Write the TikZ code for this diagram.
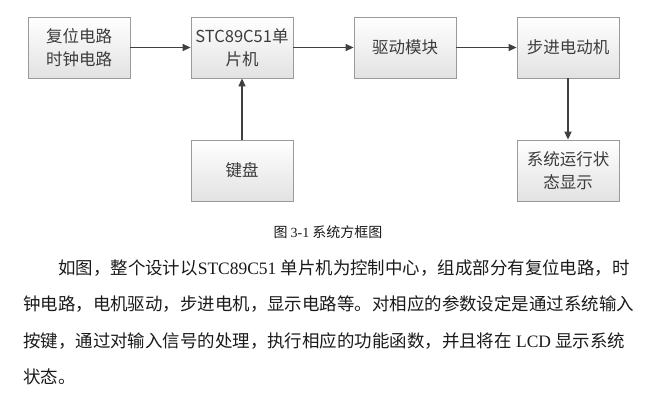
\documentclass[tikz,border=0pt]{standalone}
\usepackage{fontspec}
\usepackage{tikz}
\usetikzlibrary{arrows.meta}
\setmainfont{Liberation Serif}
\newfontfamily\cjkfont{Noto Sans CJK SC}
\definecolor{BlockEdge}{HTML}{9A9A9A}
\definecolor{BlockTop}{HTML}{FFFFFF}
\definecolor{BlockBottom}{HTML}{E2E2E2}
\definecolor{BlockText}{HTML}{3C3C3C}
\definecolor{FlowLine}{HTML}{404040}
\definecolor{BodyText}{HTML}{1A1A1A}

\begin{document}
\begin{tikzpicture}[x=1pt,y=-1pt,
    block/.style={draw=BlockEdge,line width=0.8pt,top color=BlockTop,bottom color=BlockBottom,
      minimum width=102pt,minimum height=61pt,inner sep=0pt,align=center,text=BlockText,
      font=\cjkfont\fontsize{16.5}{23}\selectfont},
    flow/.style={FlowLine,line width=1.4pt,-{Triangle[length=8pt,width=7pt]}},
    bodyline/.style={anchor=west,inner sep=0pt,text=BodyText,font=\cjkfont\fontsize{17.45}{20}\selectfont}]
      \useasboundingbox (0,0) rectangle (653,407);
      \node[block] (reset) at (79,47.5) {复位电路\\时钟电路};
      \node[block] (mcu) at (242,47.5) {STC89C51单\\片机};
      \node[block] (driver) at (405,47.5) {驱动模块};
      \node[block] (motor) at (568,47.5) {步进电动机};
      \node[block] (keypad) at (242,170.5) {键盘};
      \node[block] (status) at (568,170.5) {系统运行状\\态显示};
      \draw[flow] (reset) -- (mcu);
      \draw[flow] (keypad) -- (mcu);
      \draw[flow] (mcu) -- (driver);
      \draw[flow] (driver) -- (motor);
      \draw[flow] (motor) -- (status);
      \node[text=BodyText,font=\cjkfont\fontsize{14}{16}\selectfont] (caption) at (328,232)
        {图 {\rmfamily 3-1} 系统方框图};
      \node[bodyline] (line1) at (58,268) {如图，整个设计以{\rmfamily STC89C51 }单片机为控制中心，组成部分有复位电路，时};
      \node[bodyline] (line2) at (23,304.5) {钟电路，电机驱动，步进电机，显示电路等。对相应的参数设定是通过系统输入};
      \node[bodyline] (line3) at (23,341) {按键，通过对输入信号的处理，执行相应的功能函数，并且将在{\rmfamily\ LCD }显示系统};
      \node[bodyline] (line4) at (23,377) {状态。};
    \end{tikzpicture}
\end{document}
